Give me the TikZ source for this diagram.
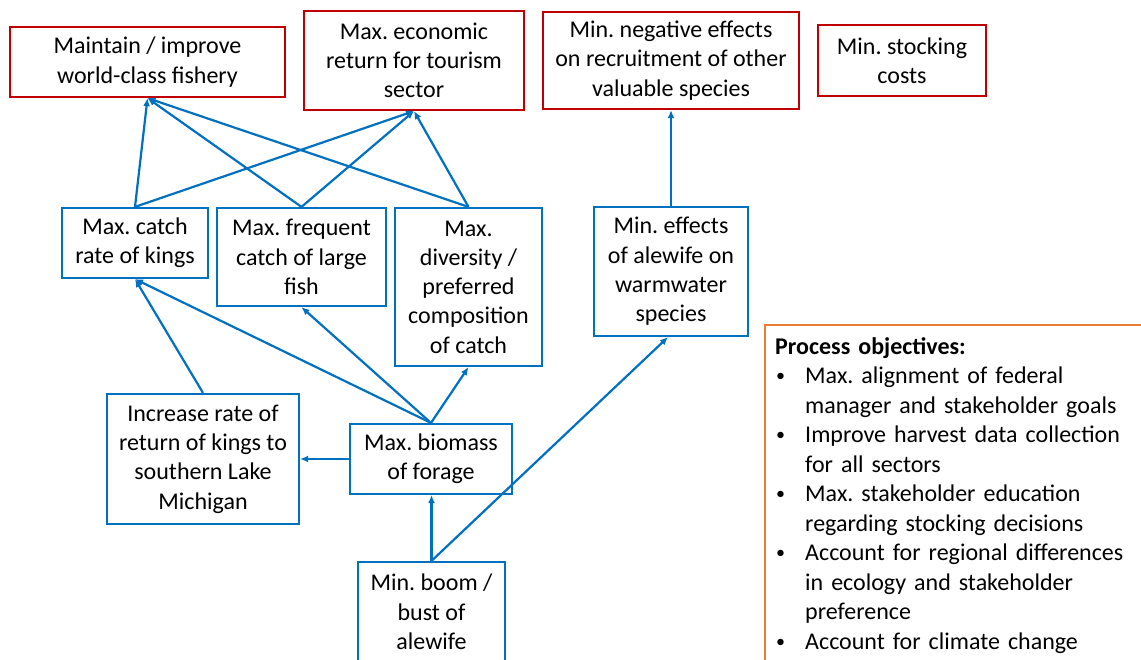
\documentclass[tikz,border=0pt]{standalone}
\usepackage{fontspec}
\setmainfont{Carlito}
\usetikzlibrary{arrows.meta}
\definecolor{myblue}{RGB}{0,112,192}
\definecolor{myred}{RGB}{192,0,0}
\definecolor{myorange}{RGB}{237,125,49}
\frenchspacing
\newcommand\pitem[1]{\par\hangindent=30pt\hangafter=1\noindent\makebox[30pt][l]{\hspace{1pt}\raisebox{2pt}{\fontsize{18}{18}\selectfont•}}#1}
\begin{document}
\begin{tikzpicture}[x=1pt,y=-1pt,
  base/.style={draw, line width=2.2pt, align=center, inner sep=0pt, text=black,
    font=\fontsize{24}{29.3}\selectfont\frenchspacing},
  redbox/.style={base, draw=myred},
  bluebox/.style={base, draw=myblue},
  conn/.style={draw=myblue, line width=2.2pt, -{Latex[length=8pt,width=7pt]}}]
\clip (0,0) rectangle (1141,660);
\fill[white] (0,0) rectangle (1141,660);
% red (fundamental) objectives
\node[redbox, minimum width=275pt, minimum height=70pt] (m1) at (147.5,62) {Maintain / improve\\world-class fishery};
\node[redbox, minimum width=220pt, minimum height=99pt] (m2) at (414,60.5) {Max. economic\\return for tourism\\sector};
\node[redbox, minimum width=256pt, minimum height=97pt] (m3) at (671,60.5) {Min. negative effects\\on recruitment of other\\valuable species};
\node[redbox, minimum width=168pt, minimum height=71pt] (m4) at (902,60.5) {Min. stocking\\costs};
% blue (means) objectives
\node[bluebox, minimum width=146pt, minimum height=70pt] (b1) at (135,243) {Max. catch\\rate of kings};
\node[bluebox, minimum width=169pt, minimum height=98pt] (b2) at (301.5,257) {Max. frequent\\catch of large\\fish};
\node[bluebox, minimum width=147pt, minimum height=158pt] (b3) at (468.5,287) {Max.\\diversity /\\preferred\\composition\\of catch};
\node[bluebox, minimum width=154pt, minimum height=129pt] (b4) at (671,271.5) {Min. effects\\of alewife on\\warmwater\\species};
\node[bluebox, minimum width=192pt, minimum height=130pt] (b5) at (203,459) {Increase rate of\\return of kings to\\southern Lake\\Michigan};
\node[bluebox, minimum width=162pt, minimum height=70pt] (b6) at (431,459) {Max. biomass\\of forage};
\node[bluebox, minimum width=147pt, minimum height=100pt] (b7) at (431.5,612) {Min. boom /\\bust of\\alewife};
% connectors
\draw[conn] (b1.north) -- (m1.south);
\draw[conn] (b1.north) -- (m2.south);
\draw[conn] (b2.north) -- (m1.south);
\draw[conn] (b2.north) -- (m2.south);
\draw[conn] (b3.north) -- (m1.south);
\draw[conn] (b3.north) -- (m2.south);
\draw[conn] (b4.north) -- (m3.south);
\draw[conn] (b6.north) -- (b1.south);
\draw[conn] (b6.north) -- (b2.south);
\draw[conn] (b6.north) -- (b3.south);
\draw[conn] (b5.north) -- (b1.south);
\draw[conn] (b6.west) -- (b5.east);
\draw[conn, line width=3pt] (b7.north) -- (b7.north |- b6.south);
\draw[conn] (b7.north) -- ([xshift=-3pt]b4.south);
% process objectives
\draw[draw=myorange, line width=2.2pt] (765,325) rectangle (1170,690);
\node[anchor=north west, inner sep=0pt, text width=380pt, align=left,
  font=\fontsize{24}{29.5}\selectfont\frenchspacing] (proc) at (775,337)
  {\textbf{Process objectives:}
   \pitem{Max. alignment of federal\newline manager and stakeholder goals}
   \pitem{Improve harvest data collection\newline for all sectors}
   \pitem{Max. stakeholder education\newline regarding stocking decisions}
   \pitem{Account for regional differences\newline in ecology and stakeholder\newline preference}
   \pitem{Account for climate change}\par};
\end{tikzpicture}
\end{document}
